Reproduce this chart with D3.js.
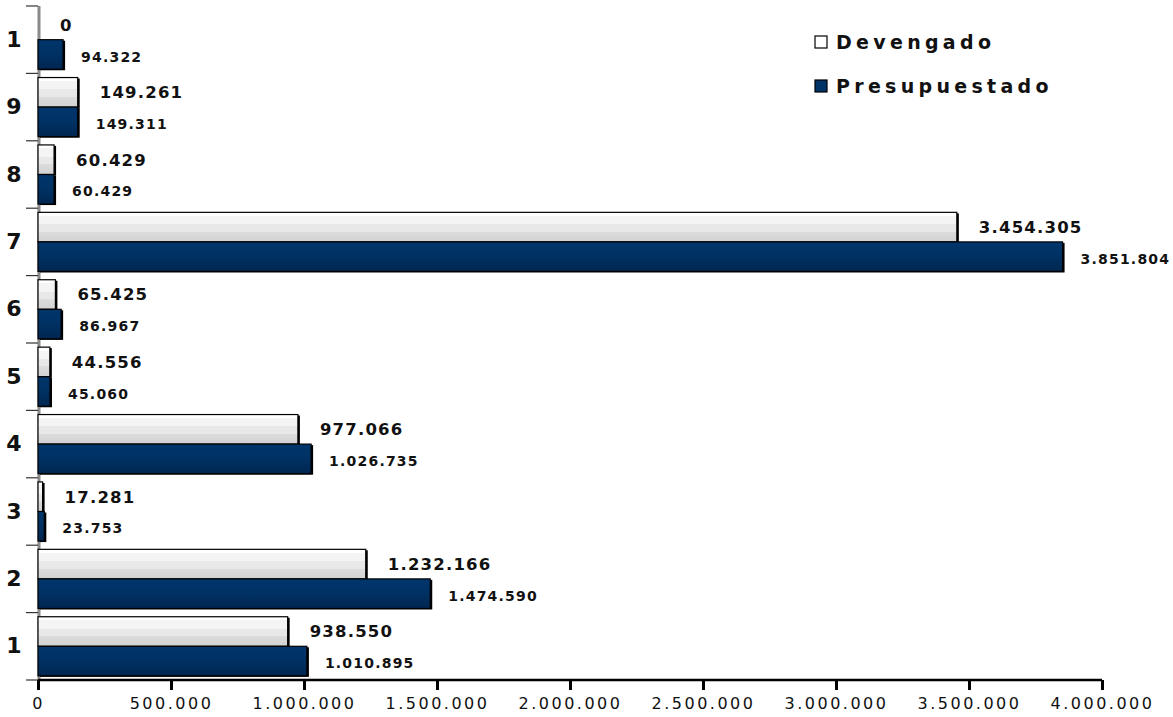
<!DOCTYPE html>
<html>
<head>
<meta charset="utf-8">
<script src="https://cdn.jsdelivr.net/npm/d3@7"></script>
<style>
  body { margin: 0; background: #fff; }
  svg { display: block; }
</style>
</head>
<body>
<div id="chart"></div>
<script>
// categories, bottom to top
var categories = ["1", "2", "3", "4", "5", "6", "7", "8", "9", "1"];
var devengado = [938550, 1232166, 17281, 977066, 44556, 65425, 3454305, 60429, 149261, 0];
var presupuestado = [1010895, 1474590, 23753, 1026735, 45060, 86967, 3851804, 60429, 149311, 94322];
var xTicks = [0, 500000, 1000000, 1500000, 2000000, 2500000, 3000000, 3500000, 4000000];
var seriesNames = ["Devengado", "Presupuestado"];

var W = 1173, H = 717;
var margin = {top: 6, right: 71, bottom: 37, left: 38},
    width = W - margin.left - margin.right,
    height = H - margin.top - margin.bottom;

var locale = d3.formatLocale({decimal: ",", thousands: ".", grouping: [3], currency: ["", ""]});
var fmt = locale.format(",d");

var svg = d3.select("#chart").append("svg")
    .attr("width", W)
    .attr("height", H);

// gradients
var defs = svg.append("defs");
var gDev = defs.append("linearGradient").attr("id", "gDev")
    .attr("x1", 0).attr("y1", 0).attr("x2", 0).attr("y2", 1);
[["0", "#ffffff"], ["0.12", "#ffffff"], ["0.12", "#f4f4f4"], ["0.4", "#f4f4f4"],
 ["0.4", "#e8e8e8"], ["0.65", "#e8e8e8"], ["0.65", "#dcdcdc"], ["1", "#d2d2d2"]]
  .forEach(function(s) { gDev.append("stop").attr("offset", s[0]).attr("stop-color", s[1]); });
var gPre = defs.append("linearGradient").attr("id", "gPre")
    .attr("x1", 0).attr("y1", 0).attr("x2", 0).attr("y2", 1);
[["0", "#00366c"], ["0.5", "#003163"], ["1", "#002650"]]
  .forEach(function(s) { gPre.append("stop").attr("offset", s[0]).attr("stop-color", s[1]); });

var g = svg.append("g")
    .attr("transform", "translate(" + margin.left + "," + margin.top + ")");

var x = d3.scaleLinear().domain([0, 4000000]).range([0, width]);

var idx = d3.range(categories.length);
var y = d3.scaleBand().domain(idx).range([height, 0]).padding(0);
var ySub = d3.scaleBand().domain(seriesNames).range([0, y.bandwidth()])
    .paddingInner(0).paddingOuter(0.14);

var rows = idx.map(function(i) {
  return {i: i, values: [
    {key: "Devengado", value: devengado[i]},
    {key: "Presupuestado", value: presupuestado[i]}
  ]};
});

// y axis (wall line + ticks)
g.append("line")
    .attr("x1", 1).attr("x2", 1)
    .attr("y1", 0).attr("y2", height)
    .attr("stroke", "#8a8a8a").attr("stroke-width", 3);

var yAxis = d3.axisLeft(y).tickSize(0).tickFormat(function(i) { return categories[i]; });
var gY = g.append("g").call(yAxis);
gY.select(".domain").remove();
gY.selectAll(".tick text")
    .attr("x", -24)
    .attr("text-anchor", "middle")
    .attr("font-family", "DejaVu Sans")
    .attr("font-weight", "bold")
    .attr("font-size", 22)
    .attr("fill", "#111");

// band boundary ticks
g.append("g").selectAll("line")
    .data(d3.range(categories.length + 1))
    .enter().append("line")
    .attr("x1", -12).attr("x2", 0)
    .attr("y1", function(k) { return k < categories.length ? y(k) + y.bandwidth() : y(k - 1); })
    .attr("y2", function(k) { return k < categories.length ? y(k) + y.bandwidth() : y(k - 1); })
    .attr("stroke", "#333").attr("stroke-width", 1.2);

// bars
var grp = g.selectAll(".grp").data(rows).enter().append("g")
    .attr("class", "grp")
    .attr("transform", function(d) { return "translate(0," + y(d.i) + ")"; });

var bar = grp.selectAll(".bar").data(function(d) { return d.values; }).enter().append("g")
    .attr("class", "bar");

// shadow on right edge
bar.append("rect")
    .attr("x", 2)
    .attr("y", function(d) { return ySub(d.key) + 1; })
    .attr("width", function(d) { return x(d.value); })
    .attr("height", ySub.bandwidth())
    .attr("fill", "#000");

bar.append("rect")
    .attr("x", 0)
    .attr("y", function(d) { return ySub(d.key); })
    .attr("width", function(d) { return x(d.value); })
    .attr("height", ySub.bandwidth())
    .attr("fill", function(d) { return d.key === "Devengado" ? "url(#gDev)" : "url(#gPre)"; })
    .attr("stroke", "#000")
    .attr("stroke-width", 1.2);

// value labels
bar.append("text")
    .attr("x", function(d) { return x(d.value) + (d.key === "Devengado" ? 22 : 18); })
    .attr("y", function(d) { return ySub(d.key) + ySub.bandwidth() / 2 + (d.key === "Devengado" ? 0 : 2); })
    .attr("dy", "0.36em")
    .attr("font-family", "DejaVu Sans")
    .attr("font-weight", "bold")
    .attr("font-size", function(d) { return d.key === "Devengado" ? 16.5 : 14; })
    .attr("letter-spacing", function(d) { return d.key === "Devengado" ? 1.2 : 1.2; })
    .attr("fill", "#111")
    .text(function(d) { return fmt(d.value); });

// x axis
var xAxis = d3.axisBottom(x).tickValues(xTicks).tickSize(10).tickPadding(8).tickFormat(fmt);
var gX = g.append("g")
    .attr("transform", "translate(0," + height + ")")
    .call(xAxis);
gX.select(".domain").attr("stroke-width", 2.5).attr("d", "M0,0H" + width);
gX.selectAll(".tick line").attr("stroke-width", 3);
gX.selectAll(".tick text")
    .attr("font-family", "DejaVu Sans")
    .attr("font-size", 16)
    .attr("letter-spacing", 2.5)
    .attr("fill", "#111");

// legend
var legend = svg.append("g").attr("transform", "translate(815,0)");
var li = legend.selectAll(".li").data(seriesNames).enter().append("g")
    .attr("transform", function(d, k) { return "translate(0," + (42 + k * 44) + ")"; });
li.append("rect")
    .attr("x", 0).attr("y", -6).attr("width", 12).attr("height", 12)
    .attr("fill", function(d) { return d === "Devengado" ? "#fff" : "#003366"; })
    .attr("stroke", "#000").attr("stroke-width", 1.2);
li.append("text")
    .attr("x", 21).attr("y", 0).attr("dy", "0.36em")
    .attr("font-family", "DejaVu Sans")
    .attr("font-weight", "bold")
    .attr("font-size", 19)
    .attr("letter-spacing", 4.3)
    .attr("fill", "#111")
    .text(function(d) { return d; });
</script>
</body>
</html>
